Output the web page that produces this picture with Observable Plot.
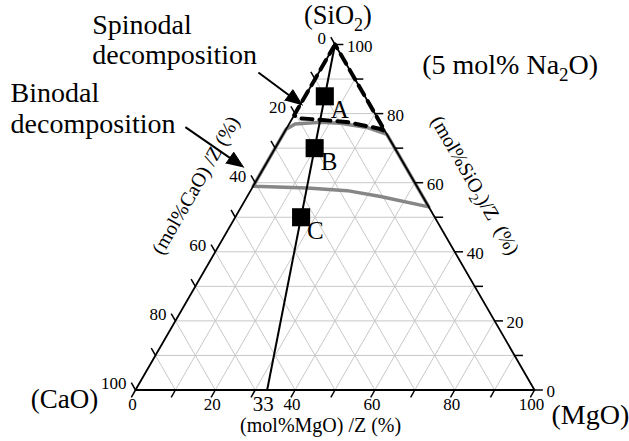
<!DOCTYPE html>
<html><head><meta charset="utf-8">
<script src="https://cdn.jsdelivr.net/npm/d3@7"></script>
<script src="https://cdn.jsdelivr.net/npm/@observablehq/plot@0.6"></script>
<style>body{margin:0;background:#fff}</style>
</head><body><div id="chart"></div>
<script>
// ---------- data (ternary compositions, mol% / Z) ----------
const gridValues = [10, 20, 30, 40, 50, 60, 70, 80, 90];
const tickValues = [0, 10, 20, 30, 40, 50, 60, 70, 80, 90, 100];
const tickLabels = [0, 20, 40, 60, 80, 100];
const sampleNames = ["A", "B", "C"];
const sampleSiO2 = [85, 70, 50];
const sampleLineMgO = 33;            // MgO at the base of the sample line (SiO2 = 0)
// binodal boundary (closed loop): SiO2 and MgO, CaO = 100 - SiO2 - MgO
const binodalSiO2 = [75.5, 77.0, 77.5, 77.2, 76.0, 74.0, 53.0, 56.0, 57.7, 58.5, 59.0, 75.5];
const binodalMgO  = [0,    1.5,  7.6,  12.8, 20.0, 26.0, 47.0, 33.4, 24.2, 13.8, 0,    0];
// spinodal boundary (closed loop)
const spinodalSiO2 = [100, 79.5, 78.6, 78.4, 77.6, 75.7, 75.0, 100];
const spinodalMgO  = [0,   0,    1.8,  5.0,  14.0, 23.0, 25.0, 0];
// annotations (chart units)
const noteTexts = ["Spinodal\ndecomposition", "Binodal\ndecomposition"];
const noteX = [-10.85, -31.3];
const noteY = [81.7, 64.5];
const arrowFrom = [[30.8, 79.6], [12.5, 65.9]];
const arrowTo   = [[41.8, 71.4], [27.1, 55.8]];
const cornerTexts = ["(SiO_2)", "(5 mol% Na_2O)", "(CaO)", "(MgO)"];
const cornerX = [50.75, 93.9, -17.8, 114.0];
const cornerY = [91.85, 79.3, -4.4, -8.6];
const cornerSize = [26.5, 28, 27, 28];
const axisTitles = ["(mol%MgO) /Z (%)", "(mol%CaO) /Z (%)", "(mol%SiO_2)/Z  (%)"];
const axisTitleX = [46.4, 15.1, 85.1];
const axisTitleY = [-8.9, 51.3, 51.3];
const axisTitleRot = [0, -60, 60];

// ---------- ternary projection ----------
const R3 = Math.sqrt(3) / 2;
const P = (s, m) => ({x: m + s / 2, y: s * R3});   // s = SiO2, m = MgO, CaO implied

const gridRows = [];
for (const k of gridValues) {
  let a = P(k, 0), b = P(k, 100 - k); gridRows.push({x1: a.x, y1: a.y, x2: b.x, y2: b.y});          // const SiO2
  a = P(100 - k, 0); b = P(0, 100 - k); gridRows.push({x1: a.x, y1: a.y, x2: b.x, y2: b.y});        // const CaO
  a = P(100 - k, k); b = P(0, k); gridRows.push({x1: a.x, y1: a.y, x2: b.x, y2: b.y});              // const MgO
}
const tickLen = 2.1;
const tickRows = [];
for (const v of tickValues) {
  let p = P(v, 100 - v); tickRows.push({x1: p.x, y1: p.y, x2: p.x + tickLen, y2: p.y});
  p = P(100 - v, 0); tickRows.push({x1: p.x, y1: p.y, x2: p.x - tickLen / 2, y2: p.y + tickLen * R3});
  p = P(0, v); tickRows.push({x1: p.x, y1: p.y, x2: p.x - tickLen / 2, y2: p.y - tickLen * R3});
}
const triangle = [P(100, 0), P(0, 0), P(0, 100), P(100, 0)];
const binodal = binodalSiO2.map((s, i) => P(s, binodalMgO[i]));
const spinodal = spinodalSiO2.map((s, i) => P(s, spinodalMgO[i]));
const lineTop = P(100, 0), lineBottom = P(0, sampleLineMgO);
const samples = sampleNames.map((n, i) => ({name: n, ...P(sampleSiO2[i], sampleLineMgO / 100 * (100 - sampleSiO2[i]))}));

const siLabels = tickLabels.map(v => ({t: String(v), ...P(v, 100 - v)}));
const caLabels = tickLabels.map(v => ({t: String(v), ...P(100 - v, 0)}));
const mgLabels = tickLabels.map(v => ({t: String(v), ...P(0, v)}));
const mg33 = [{t: String(sampleLineMgO), ...P(0, sampleLineMgO)}];

const notes = noteTexts.map((t, i) => ({t, x: noteX[i], y: noteY[i]}));
const corners = cornerTexts.map((t, i) => ({t, x: cornerX[i], y: cornerY[i], fs: cornerSize[i]}));
const titles = axisTitles.map((t, i) => ({t, x: axisTitleX[i], y: axisTitleY[i], r: axisTitleRot[i]}));

const headLen = 4.2, headHalf = 1.7;
const shafts = [], heads = [];
arrowFrom.forEach((f, i) => {
  const t = arrowTo[i];
  const dx = t[0] - f[0], dy = t[1] - f[1], L = Math.hypot(dx, dy);
  const ux = dx / L, uy = dy / L;
  const bx = t[0] - ux * headLen, by = t[1] - uy * headLen;
  shafts.push({x1: f[0], y1: f[1], x2: bx + ux, y2: by + uy});
  heads.push({x: t[0], y: t[1], z: i});
  heads.push({x: bx - uy * headHalf, y: by + ux * headHalf, z: i});
  heads.push({x: bx + uy * headHalf, y: by - ux * headHalf, z: i});
});

const serif = "'Liberation Serif', 'Times New Roman', serif";
const T = (data, opts) => Plot.text(data, {fontFamily: serif, fill: "black", ...opts});
const chart = Plot.plot({
  width: 629, height: 441,
  marginLeft: 135, marginRight: 95, marginTop: 44, marginBottom: 51.5,
  x: {domain: [0, 100], axis: null},
  y: {domain: [0, 100 * R3], axis: null},
  style: {fontFamily: serif, background: "white", overflow: "visible"},
  marks: [
    Plot.link(gridRows, {x1: "x1", y1: "y1", x2: "x2", y2: "y2", stroke: "#c8c8c8", strokeWidth: 1}),
    Plot.line(binodal, {x: "x", y: "y", stroke: "#868686", strokeWidth: 3.5, strokeLinejoin: "round"}),
    Plot.line(triangle, {x: "x", y: "y", stroke: "black", strokeWidth: 1.8}),
    Plot.line(spinodal, {x: "x", y: "y", stroke: "black", strokeWidth: 4, strokeDasharray: "11,7"}),
    Plot.link(tickRows, {x1: "x1", y1: "y1", x2: "x2", y2: "y2", stroke: "black", strokeWidth: 1.5}),
    Plot.link([{}], {x1: () => lineTop.x, y1: () => lineTop.y, x2: () => lineBottom.x, y2: () => lineBottom.y, stroke: "black", strokeWidth: 2}),
    Plot.dot(samples, {x: "x", y: "y", symbol: "square", r: 10.2, fill: "black", stroke: null}),
    T(samples, {x: "x", y: "y", text: "name", fontSize: 25, textAnchor: "start", lineAnchor: "bottom", dx: 6, dy: 22}),
    T(siLabels, {x: "x", y: "y", text: "t", fontSize: 17, textAnchor: "start", lineAnchor: "middle", dx: 12, dy: 2}),
    T(caLabels, {x: "x", y: "y", text: "t", fontSize: 17, textAnchor: "end", lineAnchor: "middle", dx: -9, dy: -6}),
    T(mgLabels, {x: "x", y: "y", text: "t", fontSize: 17, textAnchor: "middle", lineAnchor: "middle", dx: -3, dy: 15}),
    T(mg33, {x: "x", y: "y", text: "t", fontSize: 21, textAnchor: "middle", lineAnchor: "middle", dx: -4, dy: 14}),
    T(notes, {x: "x", y: "y", text: "t", fontSize: 28, textAnchor: "start", lineAnchor: "bottom", lineHeight: 1.09}),
    T(corners, {x: "x", y: "y", text: "t", fontSize: "fs", textAnchor: "middle", lineAnchor: "bottom"}),
    T(titles, {x: "x", y: "y", text: "t", rotate: "r", fontSize: 20, textAnchor: "middle", lineAnchor: "middle"}),
    Plot.link(shafts, {x1: "x1", y1: "y1", x2: "x2", y2: "y2", stroke: "black", strokeWidth: 2}),
    Plot.line(heads, {x: "x", y: "y", z: "z", fill: "black", stroke: "black", strokeWidth: 1, strokeLinejoin: "miter"})
  ]
});

// subscripts: "_2" -> lowered, smaller 2
chart.querySelectorAll("text").forEach(t => {
  if (t.children.length || !t.textContent.includes("_")) return;
  let fs = parseFloat(t.getAttribute("font-size"));
  if (!fs) fs = parseFloat(t.parentNode.getAttribute("font-size")) || 16;
  const parts = t.textContent.split(/_(\d)/);
  t.textContent = "";
  const NS = "http://www.w3.org/2000/svg";
  parts.forEach((p, i) => {
    if (!p) return;
    const ts = document.createElementNS(NS, "tspan");
    ts.textContent = p;
    if (i % 2 === 1) {
      ts.setAttribute("font-size", (fs * 0.68).toFixed(1));
      ts.setAttribute("dy", (fs * 0.28).toFixed(1));
    } else if (i > 0) {
      ts.setAttribute("dy", (-fs * 0.28).toFixed(1));
    }
    t.appendChild(ts);
  });
});
document.getElementById("chart").appendChild(chart);
</script>
</body></html>
